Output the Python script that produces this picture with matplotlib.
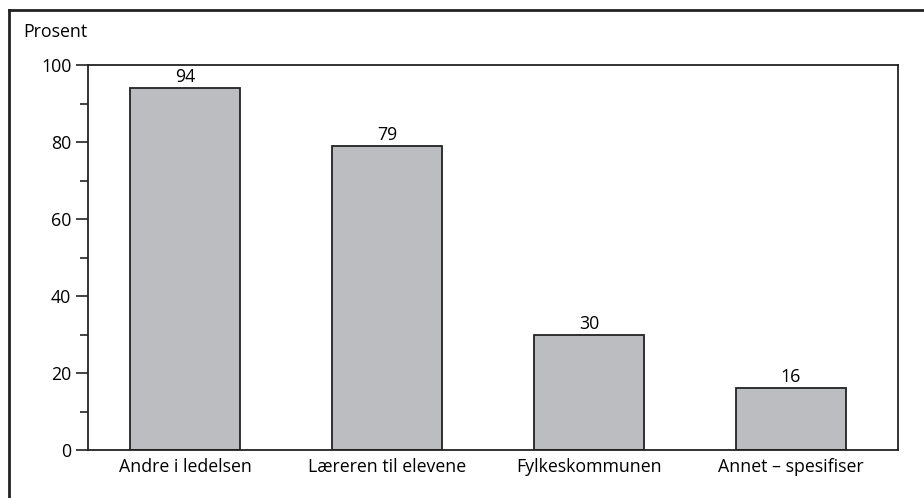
import matplotlib
matplotlib.use('Agg')
import matplotlib.pyplot as plt
from matplotlib.lines import Line2D
from matplotlib.ticker import MultipleLocator

plt.rcParams['font.family'] = ['Open Sans', 'DejaVu Sans']

categories = ['Andre i ledelsen', 'Læreren til elevene', 'Fylkeskommunen', 'Annet – spesifiser']
values = [94, 79, 30, 16]
bar_color = '#bcbdc0'
edge_color = '#222222'

W, H = 924, 498
fig = plt.figure(figsize=(W / 100, H / 100), dpi=100)
ax = fig.add_axes([88 / W, 1 - 450 / H, 810 / W, 385 / H])

x = range(len(categories))
bars = ax.bar(x, values, width=0.545, color=bar_color, edgecolor=edge_color, linewidth=1.3)
for b, v in zip(bars, values):
    ax.text(b.get_x() + b.get_width() / 2, v + 0.5, str(v), ha='center', va='bottom', fontsize=12.8)

ax.set_xlim(-0.48, 3.53)
ax.set_ylim(0, 100)
ax.yaxis.set_major_locator(MultipleLocator(20))
ax.yaxis.set_minor_locator(MultipleLocator(10))
ax.set_xticks(list(x))
ax.set_xticklabels(categories, fontsize=12.8)
ax.tick_params(axis='x', length=0, pad=6)
ax.tick_params(axis='y', which='major', length=9, width=1.2, labelsize=12.8, pad=3, color=edge_color)
ax.tick_params(axis='y', which='minor', length=6, width=1.2, color=edge_color)
for s in ax.spines.values():
    s.set_linewidth(1.3)
    s.set_color(edge_color)

fig.text(23 / W, 1 - 32 / H, 'Prosent', ha='left', va='center', fontsize=12.8)

# outer frame (cut at right and bottom)
fig.add_artist(Line2D([9 / W, 9 / W], [0, 1 - 10 / H], transform=fig.transFigure,
                      color=edge_color, linewidth=2.0))
fig.add_artist(Line2D([9 / W, 1], [1 - 10 / H, 1 - 10 / H], transform=fig.transFigure,
                      color=edge_color, linewidth=2.0))

fig.savefig('out.png', dpi=100)
